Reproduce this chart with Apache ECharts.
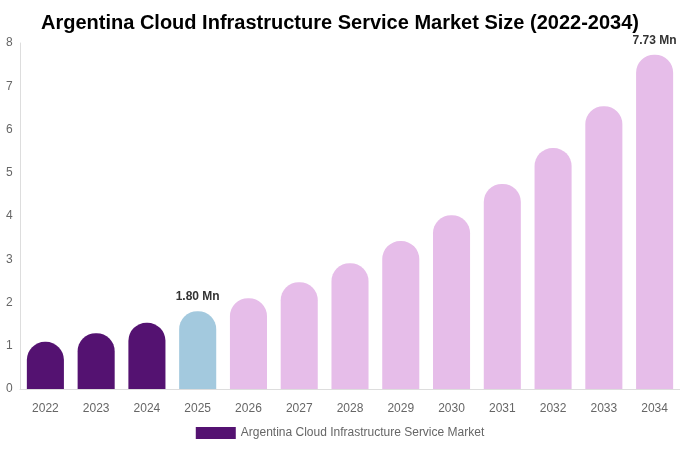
<!DOCTYPE html>
<html>
<head>
<meta charset="utf-8">
<script src="https://cdn.jsdelivr.net/npm/echarts@6/dist/echarts.min.js"></script>
<style>
html, body { margin: 0; padding: 0; background: #fff; }
#chart { width: 680px; height: 450px; }
</style>
</head>
<body>
<div id="chart"></div>
<script>
var years = ["2022","2023","2024","2025","2026","2027","2028","2029","2030","2031","2032","2033","2034"];
var marketSize = [1.09, 1.29, 1.53, 1.80, 2.10, 2.47, 2.91, 3.42, 4.02, 4.74, 5.57, 6.54, 7.73];
var labeledYears = ["2025", "2034"];
var yTicks = { min: 0, max: 8, interval: 1 };

var barColor = function (year) {
    var y = parseInt(year, 10);
    if (y < 2025) return "#541271";
    if (y === 2025) return "#a3c9de";
    return "#e6bde9";
};

var chart = echarts.init(document.getElementById("chart"));
var option = {
    backgroundColor: "#fff",
    animation: false,
    title: {
        text: "Argentina Cloud Infrastructure Service Market Size (2022-2034)",
        left: "center",
        top: 8,
        textStyle: { fontFamily: "Liberation Sans, Arial", fontSize: 20, fontWeight: "bold", color: "#000" }
    },
    legend: {
        bottom: 6,
        left: "center",
        icon: "rect",
        itemWidth: 40,
        itemHeight: 12,
        data: [{ name: "Argentina Cloud Infrastructure Service Market", itemStyle: { color: "#541271" } }],
        textStyle: { fontFamily: "Liberation Sans, Arial", fontSize: 12, color: "#666" }
    },
    grid: { left: 20, right: 0, top: 43, bottom: 61 },
    xAxis: {
        type: "category",
        data: years,
        axisLine: { lineStyle: { color: "#ddd" } },
        axisTick: { show: false },
        axisLabel: { color: "#666", fontSize: 12, margin: 14, fontFamily: "Liberation Sans, Arial" }
    },
    yAxis: {
        type: "value",
        min: yTicks.min,
        max: yTicks.max,
        interval: yTicks.interval,
        axisLine: { show: true, lineStyle: { color: "#ddd" } },
        splitLine: { show: false },
        axisLabel: { color: "#666", fontSize: 12, margin: 14, align: "left", fontFamily: "Liberation Sans, Arial" }
    },
    series: [{
        name: "Argentina Cloud Infrastructure Service Market",
        type: "bar",
        barWidth: "73%",
        data: marketSize.map(function (v, i) {
            var show = labeledYears.indexOf(years[i]) >= 0;
            return {
                value: v,
                itemStyle: { color: barColor(years[i]), borderRadius: [18, 18, 0, 0] },
                label: {
                    show: show,
                    position: "top",
                    distance: 8,
                    formatter: function (p) { return p.value.toFixed(2) + " Mn"; },
                    fontFamily: "Liberation Sans, Arial",
                    fontSize: 12,
                    fontWeight: "bold",
                    color: "#333"
                }
            };
        })
    }]
};
chart.setOption(option);

window.onresize = function () {
    chart.resize();
};
</script>
</body>
</html>
